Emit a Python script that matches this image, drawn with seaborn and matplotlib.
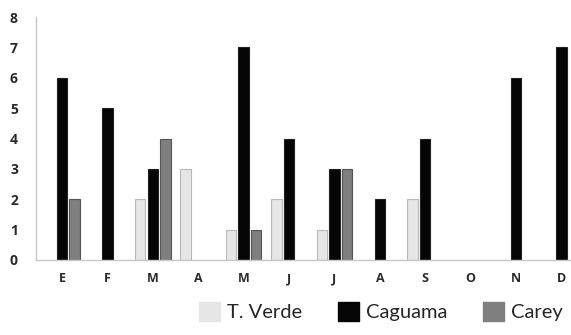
import matplotlib
matplotlib.use("Agg")
import matplotlib.pyplot as plt
import seaborn as sns
import pandas as pd
from matplotlib.patches import Patch

months = ["E", "F", "M", "A", "M", "J", "J", "A", "S", "O", "N", "D"]
series = ["T. Verde", "Caguama", "Carey"]
t_verde = [0, 0, 2, 3, 1, 2, 1, 0, 2, 0, 0, 0]
caguama = [6, 5, 3, 0, 7, 4, 3, 2, 4, 0, 6, 7]
carey = [2, 0, 4, 0, 1, 0, 3, 0, 0, 0, 0, 0]
y_ticks = [0, 1, 2, 3, 4, 5, 6, 7, 8]

colors = {"T. Verde": "#e6e6e6", "Caguama": "#050505", "Carey": "#7f7f7f"}
edges = {"T. Verde": "#b8b8b8", "Caguama": "#222222", "Carey": "#555555"}

# unique category keys (months repeat letters)
keys = [f"{i}" for i in range(len(months))]
rows = []
for name, vals in zip(series, [t_verde, caguama, carey]):
    for k, v in zip(keys, vals):
        if v > 0:
            rows.append({"mes": k, "serie": name, "valor": v})
df = pd.DataFrame(rows)

sns.set_theme(style="white")
plt.rcParams["font.family"] = ["Open Sans", "DejaVu Sans"]

fig = plt.figure(figsize=(5.71, 3.35), dpi=100)
ax = fig.add_axes([0.063, 0.224, 0.937, 0.725])

sns.barplot(data=df, x="mes", y="valor", hue="serie", order=keys,
            hue_order=series, palette=colors, width=0.83, gap=0.17,
            linewidth=0.8, ax=ax, legend=True)

for cont, name in zip(ax.containers, series):
    for p in cont:
        p.set_edgecolor(edges[name])

ax.set_ylim(0, 8)
ax.set_xlim(-0.573, 11.21)
ax.set_yticks(y_ticks)
ax.set_yticklabels([str(t) for t in y_ticks], fontsize=10, fontweight="bold", color="#2a2a2a")
ax.set_xticks(range(len(months)))
ax.set_xticklabels(months, fontsize=9, fontweight="bold", color="#2a2a2a")
ax.tick_params(axis="x", length=0, pad=9)
ax.tick_params(axis="y", length=0, pad=13)
ax.set_xlabel("")
ax.set_ylabel("")
for s in ["top", "right"]:
    ax.spines[s].set_visible(False)
for s in ["left", "bottom"]:
    ax.spines[s].set_color("#c8c8c8")
    ax.spines[s].set_linewidth(1.0)

ax.get_legend().remove()
handles = [Patch(facecolor=colors[s], edgecolor=colors[s]) for s in series]
fig.legend(handles, series, loc="center", bbox_to_anchor=(0.667, 0.069),
           ncol=3, frameon=False, handlelength=1.05, handleheight=1.05,
           handletextpad=0.35, columnspacing=1.75,
           prop={"family": ["Lato", "DejaVu Sans"], "size": 14.5})

fig.savefig("out.png", dpi=100)
